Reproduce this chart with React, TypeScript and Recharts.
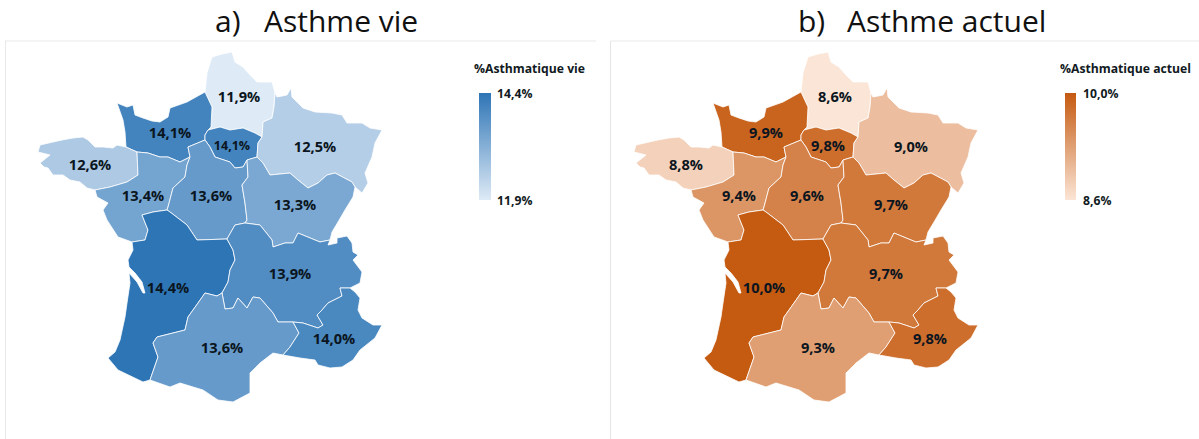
import React from 'react';
import { ScatterChart, Scatter, XAxis, YAxis, ReferenceArea, ReferenceLine } from 'recharts';

// region order is the same in every list below
const regions = ['HDF', 'NOR', 'IDF', 'GES', 'BRE', 'PDL', 'CVL', 'BFC', 'NAQ', 'ARA', 'OCC', 'PAC'];
const valuesVie = [11.9, 14.1, 14.1, 12.5, 12.6, 13.4, 13.6, 13.3, 14.4, 13.9, 13.6, 14.0];
const valuesActuel = [8.6, 9.9, 9.8, 9.0, 8.8, 9.4, 9.6, 9.7, 10.0, 9.7, 9.3, 9.8];

// outlines
const outlines: Record<string, number[][]> = {
  HDF: [[212, 57], [222, 54], [232, 52], [235, 62], [243, 67], [250, 75], [257, 82], [272, 82], [275, 93], [274, 107], [272, 118], [263, 122], [262, 137], [255, 133], [243, 128], [230, 130], [220, 127], [208, 130], [211, 127], [212, 107], [205, 92], [207, 73]],
  NOR: [[126, 147], [125, 132], [123, 120], [117, 103], [127, 107], [133, 105], [135, 115], [143, 118], [152, 121], [160, 122], [168, 117], [170, 108], [187, 102], [205, 92], [212, 107], [211, 127], [208, 130], [205, 135], [205, 140], [188, 147], [190, 157], [180, 162], [168, 157], [160, 157], [148, 153], [137, 152]],
  IDF: [[208, 130], [220, 127], [230, 130], [243, 128], [255, 133], [262, 137], [258, 143], [257, 157], [247, 160], [243, 167], [235, 168], [230, 162], [215, 157], [210, 147], [205, 140], [205, 135]],
  GES: [[263, 122], [272, 118], [274, 107], [275, 93], [277, 97], [287, 95], [291, 88], [292, 97], [303, 108], [315, 112], [332, 113], [342, 115], [347, 123], [362, 123], [370, 128], [382, 130], [375, 143], [372, 157], [365, 173], [368, 183], [362, 193], [355, 187], [352, 182], [335, 173], [327, 175], [318, 183], [308, 188], [298, 180], [290, 173], [270, 175], [263, 163], [257, 157], [258, 143], [262, 137]],
  BRE: [[126, 147], [117, 145], [113, 148], [103, 147], [95, 147], [88, 140], [83, 137], [73, 138], [62, 140], [53, 142], [40, 145], [38, 152], [50, 155], [40, 163], [44, 167], [48, 168], [53, 175], [63, 175], [70, 180], [80, 182], [87, 188], [95, 190], [110, 187], [127, 182], [138, 175], [137, 152]],
  PDL: [[137, 152], [148, 153], [160, 157], [168, 157], [180, 162], [190, 157], [187, 165], [185, 177], [173, 188], [168, 207], [167, 210], [153, 212], [142, 215], [148, 230], [145, 240], [132, 242], [118, 237], [107, 220], [103, 210], [108, 203], [97, 197], [95, 190], [110, 187], [127, 182], [138, 175]],
  CVL: [[205, 140], [210, 147], [215, 157], [230, 162], [235, 168], [243, 167], [247, 160], [248, 177], [242, 185], [245, 203], [247, 220], [245, 223], [235, 225], [227, 239], [197, 240], [187, 225], [170, 212], [167, 210], [168, 207], [173, 188], [185, 177], [187, 165], [190, 157], [188, 147]],
  BFC: [[247, 160], [257, 157], [263, 163], [270, 175], [290, 173], [298, 180], [308, 188], [318, 183], [327, 175], [335, 173], [352, 182], [355, 187], [353, 197], [345, 210], [338, 222], [332, 232], [330, 240], [320, 242], [315, 240], [298, 233], [293, 243], [285, 243], [273, 247], [272, 240], [260, 225], [245, 223], [247, 220], [245, 203], [242, 185], [248, 177]],
  NAQ: [[132, 242], [145, 240], [148, 230], [142, 215], [153, 212], [167, 210], [170, 212], [187, 225], [197, 240], [227, 239], [233, 250], [235, 260], [230, 270], [228, 282], [222, 293], [217, 296], [205, 293], [198, 303], [188, 317], [185, 330], [157, 337], [153, 343], [158, 357], [150, 380], [143, 382], [118, 370], [108, 358], [115, 352], [120, 340], [125, 317], [127, 303], [130, 283], [129, 273], [137, 282], [143, 293], [145, 293], [142, 282], [135, 273], [129, 267], [128, 260], [133, 250]],
  ARA: [[227, 239], [235, 225], [245, 223], [260, 225], [272, 240], [273, 247], [285, 243], [293, 243], [298, 233], [315, 240], [320, 242], [330, 240], [328, 245], [337, 243], [337, 238], [347, 236], [352, 243], [353, 252], [358, 255], [353, 260], [362, 272], [360, 283], [350, 288], [340, 288], [342, 296], [328, 303], [322, 310], [317, 315], [323, 325], [318, 328], [303, 323], [293, 322], [278, 322], [273, 313], [260, 298], [253, 297], [247, 308], [238, 298], [233, 308], [225, 309], [222, 293], [228, 282], [230, 270], [235, 260], [233, 250]],
  OCC: [[153, 343], [157, 337], [185, 330], [188, 317], [198, 303], [205, 293], [217, 296], [222, 293], [225, 309], [233, 308], [238, 298], [247, 308], [253, 297], [260, 298], [273, 313], [278, 322], [293, 322], [299, 333], [290, 347], [283, 355], [273, 353], [260, 363], [250, 373], [250, 393], [233, 402], [218, 400], [203, 390], [180, 383], [170, 387], [150, 380], [158, 357]],
  PAC: [[350, 288], [340, 288], [342, 296], [328, 303], [322, 310], [317, 315], [323, 325], [318, 328], [303, 323], [293, 322], [299, 333], [290, 347], [283, 355], [300, 358], [315, 360], [318, 365], [330, 368], [342, 367], [353, 360], [360, 350], [375, 338], [382, 325], [373, 325], [362, 318], [358, 310], [360, 298], [355, 292]],
};

const labelAnchors = [[239, 97], [170, 133], [232, 146], [315, 147], [90, 165], [143, 196], [211, 196], [295, 205], [168, 288], [290, 274], [222, 348], [334, 339]];

const TEXT_FONT = '"Open Sans", sans-serif';

const mix = (a: number[], b: number[], t: number) =>
  `rgb(${a.map((c, i) => Math.round(c + (b[i] - c) * t)).join(',')})`;

const fmt = (v: number) => v.toFixed(1).replace('.', ',') + '%';

const blueLow = [222, 234, 246];
const blueHigh = [46, 117, 182];
const orangeLow = [251, 229, 214];
const orangeHigh = [197, 90, 17];

const regionLine = (fill: string) => (props: any) => {
  const d = props.points.map((p: any, i: number) => `${i ? 'L' : 'M'}${p.x},${p.y}`).join('') + 'Z';
  return <path d={d} fill={fill} stroke="#ffffff" strokeWidth={0.8} strokeLinejoin="round" />;
};

const noDot = () => <g />;

const mapSeries = (axis: string, values: number[], low: number[], high: number[]) => {
  const min = Math.min(...values);
  const max = Math.max(...values);
  return regions.map((r, i) => (
    <Scatter
      key={axis + r}
      xAxisId={axis}
      data={outlines[r].map(([x, y]) => ({ x, y }))}
      dataKey="y"
      line={regionLine(mix(low, high, (values[i] - min) / (max - min)))}
      shape={noDot}
      isAnimationActive={false}
    />
  ));
};

const mapLabels = (axis: string, values: number[]) => {
  const data = labelAnchors.map(([x, y], i) => ({ x, y, text: fmt(values[i]), small: regions[i] === 'IDF' && axis === 'a' }));
  return (
    <Scatter
      key={axis + 'labels'}
      xAxisId={axis}
      data={data}
      dataKey="y"
      isAnimationActive={false}
      shape={(p: any) => (
        <text x={p.cx} y={p.cy} dy="0.35em" textAnchor="middle" fontFamily={TEXT_FONT} fontWeight={700}
          fontSize={p.payload.small ? 12.5 : 14.6} fill="#0b1520">
          {p.payload.text}
        </text>
      )}
    />
  );
};

const legendText = (x: number, y: number, value: string) => (
  <text x={x} y={y} dy="0.35em" fontFamily={TEXT_FONT} fontWeight={700} fontSize={12.2} fill="#111a22">
    {value}
  </text>
);

const Title: React.FC<{ left: number; textLeft: number; label: string; text: string }> = ({ left, textLeft, label, text }) => (
  <>
    {[{ x: left, t: label }, { x: textLeft, t: text }].map(({ x, t }) => (
      <div key={t} style={{ position: 'absolute', left: x, top: 3, fontFamily: TEXT_FONT, fontSize: 30, lineHeight: '36px', color: '#111', whiteSpace: 'pre' }}>
        {t}
      </div>
    ))}
  </>
);

export default function App() {
  return (
    <div style={{ position: 'absolute', left: 0, top: 0, width: 1199, height: 439, background: '#fff', overflow: 'hidden' }}>
      <Title left={215} textLeft={264} label="a)" text="Asthme vie" />
      <Title left={798} textLeft={847} label="b)" text="Asthme actuel" />
      <ScatterChart width={1199} height={439} margin={{ top: 0, right: 0, bottom: 0, left: 0 }}>
        <defs>
          <linearGradient id="gradVie" x1="0" y1="0" x2="0" y2="1">
            <stop offset="0%" stopColor={mix(blueHigh, blueHigh, 0)} />
            <stop offset="100%" stopColor={mix(blueLow, blueLow, 0)} />
          </linearGradient>
          <linearGradient id="gradActuel" x1="0" y1="0" x2="0" y2="1">
            <stop offset="0%" stopColor={mix(orangeHigh, orangeHigh, 0)} />
            <stop offset="100%" stopColor={mix(orangeLow, orangeLow, 0)} />
          </linearGradient>
        </defs>
        <XAxis xAxisId="a" type="number" dataKey="x" domain={[0, 1199]} hide />
        <XAxis xAxisId="b" type="number" dataKey="x" domain={[-596, 603]} hide />
        <YAxis type="number" dataKey="y" domain={[0, 439]} reversed hide width={0} />

        <ReferenceLine xAxisId="a" segment={[{ x: 5, y: 41 }, { x: 596, y: 41 }]} stroke="#e9e9e9" />
        <ReferenceLine xAxisId="a" segment={[{ x: 5.5, y: 41 }, { x: 5.5, y: 439 }]} stroke="#e9e9e9" />
        <ReferenceLine xAxisId="a" segment={[{ x: 610.5, y: 41 }, { x: 1199, y: 41 }]} stroke="#e9e9e9" />
        <ReferenceLine xAxisId="a" segment={[{ x: 610.5, y: 41 }, { x: 610.5, y: 439 }]} stroke="#e4e4e4" />

        {mapSeries('a', valuesVie, blueLow, blueHigh)}
        {mapSeries('b', valuesActuel, orangeLow, orangeHigh)}
        {mapLabels('a', valuesVie)}
        {mapLabels('b', valuesActuel)}

        <ReferenceArea xAxisId="a" x1={479} x2={491} y1={93} y2={200} fill="url(#gradVie)" fillOpacity={1} stroke="none" />
        <ReferenceArea xAxisId="a" x1={1065} x2={1076} y1={93} y2={200} fill="url(#gradActuel)" fillOpacity={1} stroke="none" />
        {legendText(474, 69, '%Asthmatique vie')}
        {legendText(497, 94, fmt(14.4))}
        {legendText(497, 201, fmt(11.9))}
        {legendText(1060, 69, '%Asthmatique actuel')}
        {legendText(1083, 94, fmt(10.0))}
        {legendText(1083, 201, fmt(8.6))}
      </ScatterChart>
    </div>
  );
}
